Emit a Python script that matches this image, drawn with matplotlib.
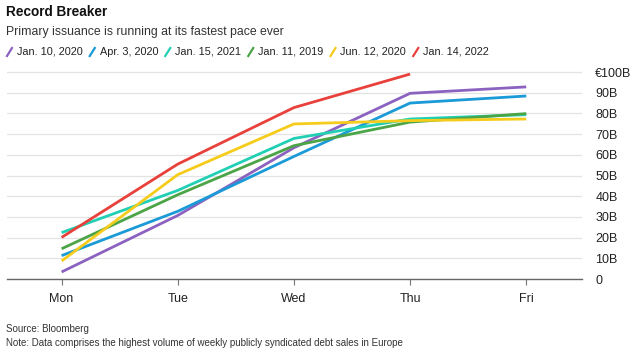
import matplotlib
matplotlib.use("Agg")
import matplotlib.pyplot as plt
from matplotlib.lines import Line2D

plt.rcParams['font.family'] = ['Liberation Sans', 'DejaVu Sans']

days = ["Mon", "Tue", "Wed", "Thu", "Fri"]
labels = ["Jan. 10, 2020", "Apr. 3, 2020", "Jan. 15, 2021", "Jan. 11, 2019", "Jun. 12, 2020", "Jan. 14, 2022"]
colors = ["#8b62c0", "#1a9ad6", "#21d0b4", "#4ba446", "#f5cc1c", "#e8403a"]

jan10_2020 = [3.4, 30.7, 63.4, 89.7, 92.8]
apr3_2020 = [11.3, 32.7, 59.2, 85.0, 88.4]
jan15_2021 = [22.4, 42.8, 67.9, 77.3, 79.4]
jan11_2019 = [14.6, 40.7, 64.4, 75.8, 79.9]
jun12_2020 = [8.7, 50.4, 74.9, 76.5, 77.3]
jan14_2022 = [20.1, 55.5, 82.8, 99.0]

series = [jan10_2020, apr3_2020, jan15_2021, jan11_2019, jun12_2020, jan14_2022]

yticks = [0, 10, 20, 30, 40, 50, 60, 70, 80, 90, 100]
ytick_labels = ["0", "10B", "20B", "30B", "40B", "50B", "60B", "70B", "80B", "90B", "€100B"]

fig = plt.figure(figsize=(6.4, 3.6), dpi=100)
W, H = 640, 360
ax = fig.add_axes([7 / W, 1 - 279 / H, (582 - 7) / W, (279 - 65) / H])

order = [3, 2, 1, 4, 0, 5]
for i in order:
    vals = series[i]
    ax.plot(range(len(vals)), vals, color=colors[i], lw=2.0, solid_capstyle='butt', zorder=3 + i)

ax.set_xlim(-0.47, 4.48)
ax.set_ylim(0, 100 * (279 - 65) / (279 - 72))
ax.set_xticks(range(len(days)))
ax.set_xticklabels(days, fontsize=9, color="#222222")
ax.set_yticks(yticks)
ax.set_yticklabels(ytick_labels, fontsize=9, color="#222222", ha='left')
ax.yaxis.tick_right()
ax.tick_params(axis='y', length=0, pad=9.5)
ax.tick_params(axis='x', length=4, width=0.8, color="#777777", pad=6)
ax.grid(axis='y', color="#e3e3e3", lw=0.9, zorder=0)
ax.set_axisbelow(True)
for s in ['top', 'right', 'left']:
    ax.spines[s].set_visible(False)
ax.spines['bottom'].set_color("#666666")
ax.spines['bottom'].set_linewidth(1.0)

fig.text(6 / W, 1 - 12 / H, "Record Breaker", fontsize=9.8, fontweight='bold', va='center', ha='left', color="#111111")
fig.text(6 / W, 1 - 32 / H, "Primary issuance is running at its fastest pace ever", fontsize=8.8, va='center', ha='left', color="#333333")

renderer = fig.canvas.get_renderer()
yc = 1 - 52 / H
x0 = 7
for i, lab in enumerate(labels):
    fig.add_artist(Line2D([x0 / W, (x0 + 5) / W], [yc - 4 / H, yc + 4 / H], color=colors[i], lw=1.6, transform=fig.transFigure))
    t = fig.text((x0 + 10) / W, yc, lab, fontsize=7.8, va='center', ha='left', color="#222222")
    w = t.get_window_extent(renderer).width
    x0 = x0 + 10 + w + 7

fig.text(6 / W, 1 - 329 / H, "Source: Bloomberg", fontsize=7, va='center', ha='left', color="#333333")
fig.text(6 / W, 1 - 343 / H, "Note: Data comprises the highest volume of weekly publicly syndicated debt sales in Europe", fontsize=7, va='center', ha='left', color="#333333")

fig.savefig("out.png", dpi=100)
